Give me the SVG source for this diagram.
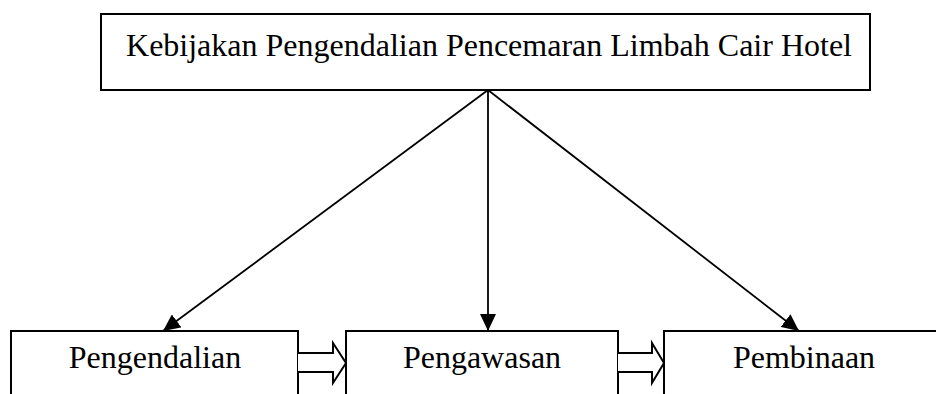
<svg xmlns="http://www.w3.org/2000/svg" width="936" height="394" viewBox="0 0 936 394">
<style>
.box{fill:#fff;stroke:#000;stroke-width:2}
.t{font-family:"Liberation Serif","Times New Roman",serif;font-size:32px;fill:#000;text-anchor:middle}
.ln{stroke:#000;stroke-width:1.8;fill:none}
.blk{fill:#fff;stroke:#000;stroke-width:2;stroke-linejoin:miter}
</style>
<defs>
<marker id="ah" markerUnits="userSpaceOnUse" markerWidth="18" markerHeight="16" refX="17" refY="8" orient="auto">
<path d="M0,0 L17,8 L0,16 Z" fill="#000"/>
</marker>
</defs>
<g id="node-top">
<rect class="box" x="101" y="14" width="769" height="76"/>
<text class="t" x="489" y="56">Kebijakan Pengendalian Pencemaran Limbah Cair Hotel</text>
</g>
<g id="node-pengendalian">
<rect class="box" x="11" y="331" width="287" height="80"/>
<text class="t" x="155" y="368">Pengendalian</text>
</g>
<g id="node-pengawasan">
<rect class="box" x="346" y="331" width="272" height="80"/>
<text class="t" x="482" y="368">Pengawasan</text>
</g>
<g id="node-pembinaan">
<rect class="box" x="664" y="331" width="290" height="80"/>
<text class="t" x="804" y="368">Pembinaan</text>
</g>
<g id="connectors">
<line class="ln" x1="488" y1="90" x2="163" y2="331" marker-end="url(#ah)"/>
<line class="ln" x1="488" y1="90" x2="488" y2="331" marker-end="url(#ah)"/>
<line class="ln" x1="488" y1="90" x2="799" y2="331" marker-end="url(#ah)"/>
<path class="blk" d="M298,353 L333,353 L333,343 L346,363 L333,383 L333,372 L298,372"/>
<path class="blk" d="M618,353 L652,353 L652,343 L664,363 L652,383 L652,372 L618,372"/>
</g>
</svg>
